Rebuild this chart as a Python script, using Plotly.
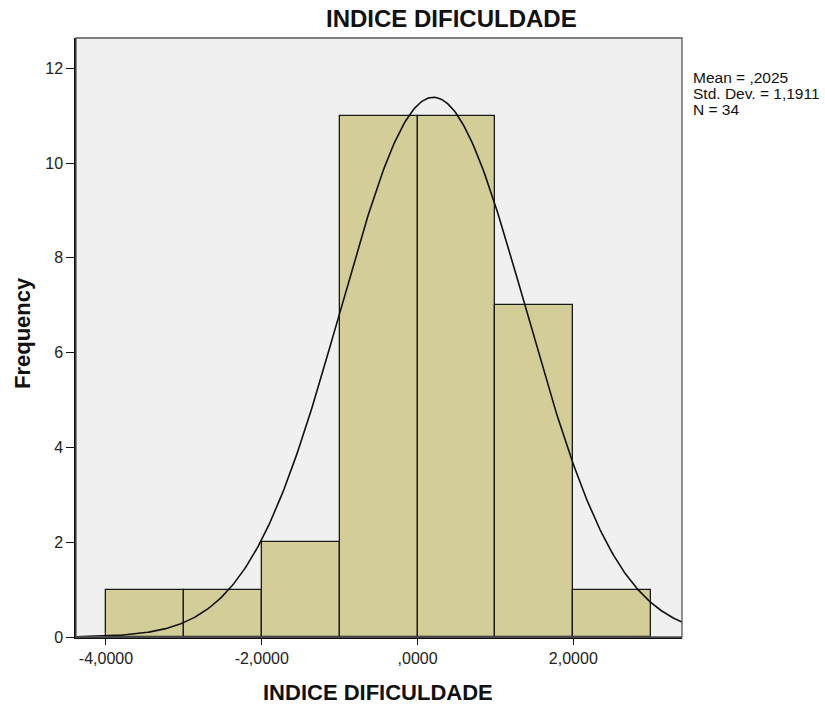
import numpy as np
import plotly.graph_objects as go

# Histogram bins (lower edges, width 1) and frequencies
bin_lower = [-4, -3, -2, -1, 0, 1, 2]
counts = [1, 1, 2, 11, 11, 7, 1]
bin_width = 1.0

# Summary statistics shown beside the plot
mean_val = 0.2025
sd_val = 1.1911
n_val = 34

x_ticks = [-4, -2, 0, 2]
x_ticklabels = ["-4,0000", "-2,0000", ",0000", "2,0000"]
y_ticks = [0, 2, 4, 6, 8, 10, 12]

x_range = [-4.385, 3.395]
y_range = [0, 12.64]

# Fitted normal curve scaled to counts
xs = np.linspace(x_range[0], x_range[1], 400)
ys = n_val * bin_width / (sd_val * np.sqrt(2 * np.pi)) * np.exp(-0.5 * ((xs - mean_val) / sd_val) ** 2)

centers = [b + bin_width / 2 for b in bin_lower]

fig = go.Figure()
fig.add_trace(go.Bar(
    x=centers, y=counts, width=bin_width,
    marker=dict(color="#D3CE98", line=dict(color="#1a1a1a", width=1.3)),
    hoverinfo="x+y",
))
fig.add_trace(go.Scatter(
    x=xs, y=ys, mode="lines",
    line=dict(color="#111111", width=1.6),
    hoverinfo="skip",
))

W, H = 825, 708
L, R, T, B = 76, 682, 38, 637

def px_x(p):
    return (p - L) / (R - L)

def px_y(p):
    return (B - p) / (B - T)

stats_lines = [
    f"Mean = ,{str(mean_val).split('.')[1]}",
    f"Std. Dev. = {str(sd_val).replace('.', ',')}",
    f"N = {n_val}",
]
stats_annotations = [
    dict(text=line, xref="paper", yref="paper", x=px_x(691), y=px_y(78 + 16 * i),
         xanchor="left", yanchor="middle", align="left", showarrow=False,
         font=dict(size=15.5, color="#111111"))
    for i, line in enumerate(stats_lines)
]

fig.update_layout(
    width=W, height=H,
    margin=dict(l=L, r=W - R, t=T, b=H - B),
    paper_bgcolor="white",
    plot_bgcolor="#F0F0F0",
    showlegend=False,
    bargap=0,
    font=dict(family="Liberation Sans, Arial, sans-serif", color="#222222"),
    xaxis=dict(
        range=x_range, tickvals=x_ticks, ticktext=x_ticklabels,
        ticks="outside", ticklen=6, tickwidth=1.3, tickcolor="#111111",
        showline=True, linecolor="#111111", linewidth=1.5,
        showgrid=False, zeroline=False,
        tickfont=dict(size=16, color="#222222"),
    ),
    yaxis=dict(
        range=y_range, tickvals=y_ticks,
        ticks="outside", ticklen=8, tickwidth=1.3, tickcolor="#111111",
        showline=True, linecolor="#111111", linewidth=1.5,
        showgrid=False, zeroline=False,
        tickfont=dict(size=16, color="#222222"),
    ),
    shapes=[
        dict(type="rect", xref="paper", yref="paper", x0=0, x1=1, y0=0, y1=1,
             line=dict(color="#555555", width=1.3), fillcolor="rgba(0,0,0,0)", layer="above"),
    ],
    annotations=[
        dict(text="<b>INDICE DIFICULDADE</b>", xref="paper", yref="paper",
             x=px_x(451), y=px_y(19), xanchor="center", yanchor="middle",
             showarrow=False, font=dict(size=24, color="#111111")),
        dict(text="<b>INDICE DIFICULDADE</b>", xref="paper", yref="paper",
             x=px_x(378), y=px_y(692), xanchor="center", yanchor="middle",
             showarrow=False, font=dict(size=22, color="#111111")),
        dict(text="<b>Frequency</b>", xref="paper", yref="paper",
             x=px_x(22), y=px_y(333), xanchor="center", yanchor="middle",
             textangle=-90, showarrow=False, font=dict(size=22, color="#111111")),
    ] + stats_annotations,
)

fig.write_html("out.html")
